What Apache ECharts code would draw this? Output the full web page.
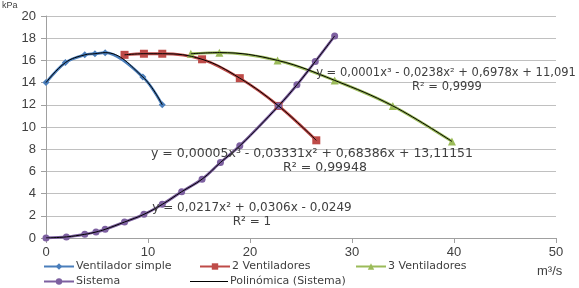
<!DOCTYPE html>
<html>
<head>
<meta charset="utf-8">
<script src="https://cdn.jsdelivr.net/npm/echarts@6/dist/echarts.min.js"></script>
<style>
  html, body { margin: 0; padding: 0; background: #fff; }
  #chart { width: 579px; height: 288px; }
</style>
</head>
<body>
<div id="chart"></div>
<script>
    // caudal (m3/s) y presion (kPa)
    const simpleX = [0, 1.9, 3.8, 4.8, 5.8, 9.5, 11.4];
    const simpleY = [14.0, 15.8, 16.5, 16.6, 16.7, 14.5, 12.0];

    const dosX = [7.7, 9.6, 11.4, 15.3, 19.0, 22.8, 26.5];
    const dosY = [16.5, 16.6, 16.6, 16.1, 14.4, 11.9, 8.8];

    const tresX = [14.2, 17.0, 22.7, 28.3, 34.0, 39.8];
    const tresY = [16.6, 16.7, 16.0, 14.2, 11.9, 8.7];

    const sistemaX = [0, 2.0, 3.8, 4.9, 5.8, 7.7, 9.6, 11.4, 13.3, 15.3, 17.1, 19.0, 22.8, 24.6, 26.4, 28.3];
    const sistemaY = [0, 0.1, 0.33, 0.54, 0.78, 1.44, 2.13, 3.03, 4.17, 5.3, 6.8, 8.3, 11.9, 13.8, 15.9, 18.2];

    const xTicks = [0, 10, 20, 30, 40, 50];
    const yTicks = [0, 2, 4, 6, 8, 10, 12, 14, 16, 18, 20];

    const pairs = (xs, ys) => xs.map((x, i) => [x, ys[i]]);

    let chart = echarts.init(document.getElementById('chart'));

    const font = 'Liberation Sans, Arial, sans-serif';
    const wideFont = 'DejaVu Sans, Verdana, sans-serif';
    const textColor = '#404040';

    function colored(name, xs, ys, color, symbol, size) {
        return {
            name: name,
            type: 'line',
            smooth: 0.3,
            data: pairs(xs, ys),
            symbol: symbol,
            symbolSize: size,
            itemStyle: { color: color },
            lineStyle: { color: color, width: 2.8 },
            z: 2
        };
    }

    function trend(name, xs, ys) {
        return {
            name: name,
            type: 'line',
            smooth: 0.4,
            data: pairs(xs, ys),
            showSymbol: false,
            symbol: 'none',
            itemStyle: { color: '#000' },
            lineStyle: { color: '#000', width: 1 },
            z: 3,
            silent: true
        };
    }

    function legendAt(name, left, top, extra) {
        return Object.assign({
            data: [name],
            left: left,
            top: top,
            padding: 0,
            itemWidth: 30,
            itemHeight: 8,
            itemGap: 0,
            textStyle: { fontFamily: wideFont, fontSize: 11, color: textColor, padding: [0, 0, 0, -3] },
            selectedMode: false
        }, extra || {});
    }

    function label(text, x, y, size) {
        return {
            type: 'text',
            x: x,
            y: y,
            style: {
                text: text,
                fill: '#404040',
                font: (size || 11.5) + 'px ' + wideFont,
                textAlign: 'center',
                textVerticalAlign: 'middle'
            },
            z: 10
        };
    }

    const option = {
        animation: false,
        backgroundColor: '#fff',
        grid: { left: 46, right: 23, top: 16, bottom: 50 },
        legend: [
            legendAt('Ventilador simple', 43, 261),
            legendAt('2 Ventiladores', 199, 261),
            legendAt('3 Ventiladores', 355, 261),
            legendAt('Sistema', 43, 276),
            legendAt('Polinómica (Sistema)', 190, 276, { itemWidth: 38, icon: 'rect', itemHeight: 1.2 })
        ],
        xAxis: {
            type: 'value',
            min: xTicks[0],
            max: xTicks[xTicks.length - 1],
            interval: 10,
            splitLine: { show: false },
            axisLine: { lineStyle: { color: '#a0a0a0' } },
            axisTick: { show: true, length: 5, lineStyle: { color: '#a0a0a0' } },
            axisLabel: { fontFamily: font, fontSize: 13, color: textColor, margin: 8 }
        },
        yAxis: {
            type: 'value',
            min: yTicks[0],
            max: yTicks[yTicks.length - 1],
            interval: 2,
            splitLine: { lineStyle: { color: '#c0c0c0', width: 1 } },
            axisLine: { show: true, lineStyle: { color: '#a0a0a0' } },
            axisTick: { show: true, length: 5, lineStyle: { color: '#a0a0a0' } },
            axisLabel: { fontFamily: font, fontSize: 13, color: textColor, margin: 10 }
        },
        graphic: [
            { type: 'text', left: 2, top: 1, style: { text: 'kPa', fill: textColor, font: '9px ' + font } },
            { type: 'text', left: 537, top: 265, style: { text: 'm³/s', fill: textColor, font: '13px ' + font } },
            label('y = 0,0001x³ - 0,0238x² + 0,6978x + 11,091', 446, 73),
            label('R² = 0,9999', 447, 87),
            label('y = 0,00005x³ - 0,03331x² + 0,68386x + 13,11151', 312, 154, 12.5),
            label('R² = 0,99948', 325, 168, 12.5),
            label('y = 0,0217x² + 0,0306x - 0,0249', 252, 208, 12),
            label('R² = 1', 252, 222, 12)
        ],
        series: [
            colored('Ventilador simple', simpleX, simpleY, '#4a7ebb', 'diamond', 7),
            colored('2 Ventiladores', dosX, dosY, '#be4b48', 'rect', 8),
            colored('3 Ventiladores', tresX, tresY, '#9bbb59', 'triangle', 8),
            colored('Sistema', sistemaX, sistemaY, '#7d60a0', 'circle', 7),
            trend('Polinómica (Ventilador simple)', simpleX, simpleY),
            trend('Polinómica (2 Ventiladores)', dosX, dosY),
            trend('Polinómica (3 Ventiladores)', tresX, tresY),
            trend('Polinómica (Sistema)', sistemaX, sistemaY)
        ]
    };

    chart.setOption(option);

    window.addEventListener('resize', function () {
        chart.resize();
    });
</script>
</body>
</html>
